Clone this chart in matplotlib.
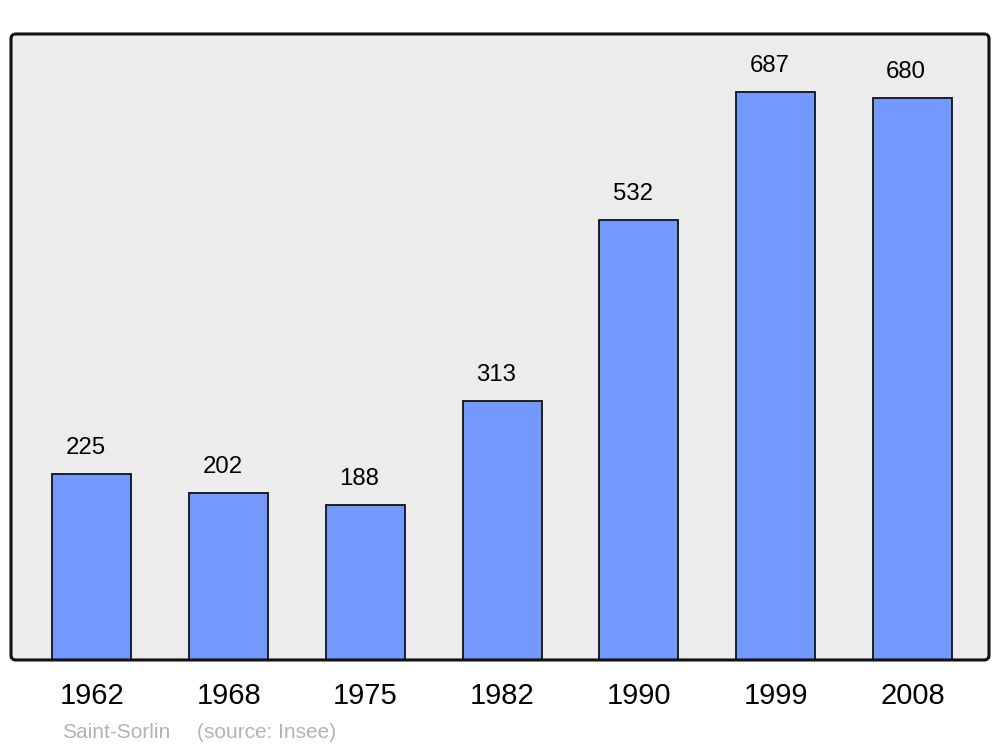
import matplotlib
matplotlib.use("Agg")
import matplotlib.pyplot as plt
from matplotlib.patches import FancyBboxPatch

years = ["1962", "1968", "1975", "1982", "1990", "1999", "2008"]
population = [225, 202, 188, 313, 532, 687, 680]
caption_place = "Saint-Sorlin"
caption_source = "(source: Insee)"

plt.rcParams['font.family'] = ['Liberation Sans', 'DejaVu Sans']

fig = plt.figure(figsize=(10, 7.47), dpi=100)
ax = fig.add_axes([0.011, 0.1165, 0.978, 0.838])
ax.patch.set_visible(False)
for s in ax.spines.values():
    s.set_visible(False)

W, H = 978, 626
r = 0.005
bg = FancyBboxPatch((0, 0), 1, 1, boxstyle=f"round,pad=0,rounding_size={r}",
                    mutation_aspect=W / H, transform=ax.transAxes,
                    facecolor="#ececec", edgecolor="none", zorder=0, clip_on=False)
ax.add_patch(bg)
frame = FancyBboxPatch((0, 0), 1, 1, boxstyle=f"round,pad=0,rounding_size={r}",
                       mutation_aspect=W / H, transform=ax.transAxes,
                       facecolor="none", edgecolor="#111111", linewidth=2.2,
                       zorder=5, clip_on=False)
ax.add_patch(frame)

x = list(range(len(years)))
ax.bar(x, population, width=0.578, color="#7399ff", edgecolor="#111111",
       linewidth=1.3, zorder=2)

for xi, v in zip(x, population):
    ax.annotate(str(v), (xi, v), xytext=(-4.5, 14.4), textcoords="offset points",
                ha="center", va="baseline", fontsize=17.3, color="black")

ax.set_xlim(-0.592, 6.56)
ax.set_ylim(0, 757)
ax.set_xticks(x)
ax.set_xticklabels(years, fontsize=21)
ax.tick_params(axis="x", length=0, pad=16)
ax.set_yticks([])

fig.text(0.062, 0.012, caption_place, fontsize=15, color="#b3b3b3", ha="left", va="baseline")
fig.text(0.197, 0.012, caption_source, fontsize=15, color="#b3b3b3", ha="left", va="baseline")

fig.savefig("out.png", dpi=100)
